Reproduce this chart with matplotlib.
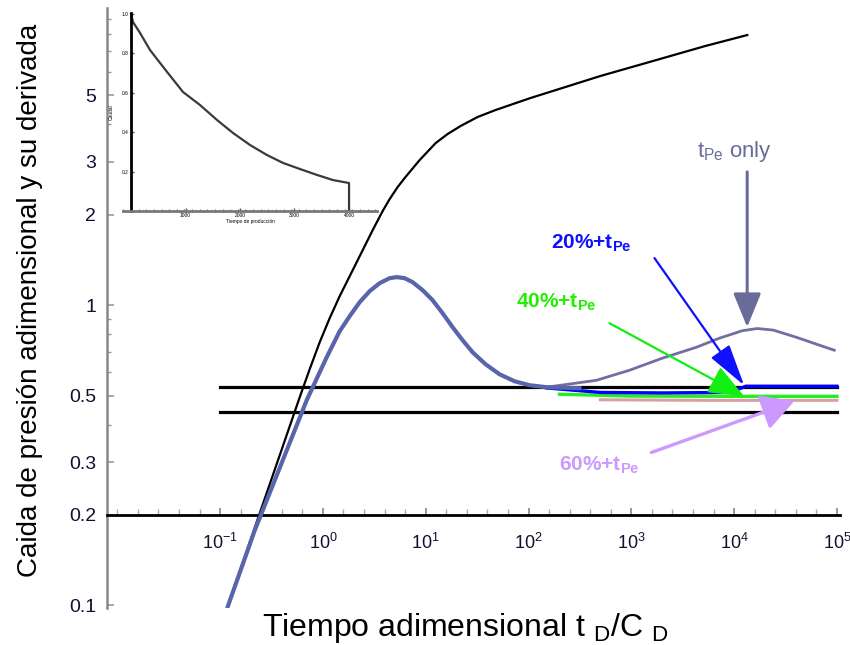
import numpy as np
import matplotlib
matplotlib.use('Agg')
import matplotlib.pyplot as plt
from matplotlib.ticker import FixedLocator, FixedFormatter, NullFormatter, MultipleLocator

plt.rcParams['font.family'] = ['Liberation Sans', 'DejaVu Sans']
plt.rcParams['mathtext.fontset'] = 'custom'
plt.rcParams['mathtext.rm'] = 'Liberation Sans'
plt.rcParams['mathtext.it'] = 'Liberation Sans'
plt.rcParams['mathtext.bf'] = 'Liberation Sans:bold'

# ---------------- data ----------------
pressure_t = [0.119, 0.232, 0.380, 0.595, 0.744, 0.931, 1.164, 1.457, 2.04, 3.05, 3.811,
              4.46, 5.333, 6.24, 8.73, 12.5, 16.32, 21.8, 31.95, 47.8, 104.5, 229, 501,
              1096, 2399, 5250, 13430]
pressure_v = [0.0993, 0.1936, 0.316, 0.4935, 0.612, 0.7527, 0.905, 1.0715, 1.349, 1.778,
              2.057, 2.256, 2.474, 2.651, 3.043, 3.467, 3.715, 3.95, 4.234, 4.467, 4.898,
              5.33, 5.80, 6.26, 6.76, 7.30, 7.94]

deriv_t = [0.119, 0.2174, 0.4067, 0.696, 1.089, 1.457, 1.822, 2.279, 2.850, 3.565, 4.459,
           5.216, 6.237, 7.459, 9.331, 11.67, 14.59, 18.27, 22.85, 28.57, 38.2, 52.2,
           73.1, 102.3, 149.6, 313]
deriv_v = [0.0993, 0.1778, 0.3042, 0.4824, 0.6709, 0.8190, 0.9190, 1.023, 1.1135, 1.184,
           1.230, 1.240, 1.230, 1.193, 1.122, 1.039, 0.9404, 0.8447, 0.7644, 0.6971,
           0.6357, 0.5888, 0.5579, 0.5412, 0.5329, 0.5289]

tpe_only_t = [150, 458, 959, 2005, 4295, 7180, 12000, 16810, 24000, 40180, 67300, 94200]
tpe_only_v = [0.533, 0.562, 0.607, 0.666, 0.724, 0.776, 0.822, 0.836, 0.826, 0.782,
              0.736, 0.708]

ht20_t = [150, 500, 2000, 8000, 11000, 13000, 30000, 100000]
ht20_v = [0.530, 0.512, 0.510, 0.512, 0.525, 0.537, 0.537, 0.537]

ht40_t = [200, 1000, 10000, 100000]
ht40_v = [0.505, 0.498, 0.497, 0.497]

ht60_t = [500, 5000, 100000]
ht60_v = [0.484, 0.482, 0.482]

ref_t = [0.1, 100000]
ref_upper_v = 0.535
ref_lower_v = 0.44

y_ticks = [0.1, 0.2, 0.3, 0.5, 1, 2, 3, 5]
y_tick_labels = ['0.1', '0.2', '0.3', '0.5', '1', '2', '3', '5']
y_minor = [0.4, 0.6, 0.7, 0.8, 0.9, 4, 6, 7, 8, 9]
x_ticks = [1e-1, 1e0, 1e1, 1e2, 1e3, 1e4, 1e5]
x_tick_labels = [r'$\mathregular{10^{-1}}$', r'$\mathregular{10^{0}}$', r'$\mathregular{10^{1}}$',
                 r'$\mathregular{10^{2}}$', r'$\mathregular{10^{3}}$', r'$\mathregular{10^{4}}$',
                 r'$\mathregular{10^{5}}$']

# inset (rate history) data
inset_x = [0, 37, 165, 349, 661, 954, 1266, 1578, 1872, 2184, 2496, 2789, 3101, 3413,
           3707, 4001, 4001]
inset_y = [1.0, 0.959, 0.904, 0.817, 0.706, 0.604, 0.538, 0.462, 0.396, 0.335, 0.284,
           0.244, 0.213, 0.183, 0.157, 0.142, 0.0]
inset_xticks = [1000, 2000, 3000, 4000]
inset_yticks = [0.2, 0.4, 0.6, 0.8, 1.0]

# annotation anchors (data coordinates)
ann_tpe = dict(text=(1.0e4, 3.25), tail=(13400, 2.78), tip=(13400, 0.845))
ann_20 = dict(text=(410, 1.61), tail=(1680, 1.435), tip=(12500, 0.541))
ann_40 = dict(text=(185, 1.02), tail=(612, 0.871), tip=(12500, 0.497))
ann_60 = dict(text=(490, 0.293), tail=(1567, 0.323), tip=(38500, 0.479))

# ---------------- figure ----------------
fig = plt.figure(figsize=(8.5, 6.45), dpi=100)
ax = fig.add_axes([107/850, 1-608/645, (840-107)/850, 600/645])
ax.set_xscale('log')
ax.set_yscale('log')
ax.set_xlim(10**-2.10, 10**5.03)
ax.set_ylim(0.098, 9.77)

ax.plot(ref_t, [ref_upper_v]*2, color='black', lw=2.3, zorder=2)
ax.plot(ref_t, [ref_lower_v]*2, color='black', lw=2.3, zorder=2)
ax.plot(pressure_t, pressure_v, color='black', lw=1.6, zorder=3,
        solid_joinstyle='round')
ax.plot(ht60_t, ht60_v, color='#d4a0a0', lw=2.2, zorder=3)
ax.plot(ht40_t, ht40_v, color='#22ee22', lw=2.4, zorder=4)
ax.plot(ht20_t, ht20_v, color='#0000ff', lw=2.4, zorder=5)
ax.plot(tpe_only_t, tpe_only_v, color='#7070a0', lw=2.0, zorder=4,
        solid_joinstyle='round')
ax.plot(deriv_t, deriv_v, color='#5a64aa', lw=3.0, zorder=6, solid_joinstyle='round')

narrow = ['Liberation Sans Narrow', 'Liberation Sans', 'DejaVu Sans']

def arrow(d, color, lw, hl, hw):
    ax.annotate('', xy=d['tip'], xytext=d['tail'], xycoords='data',
                arrowprops=dict(arrowstyle='-|>,head_length=%g,head_width=%g' % (hl, hw),
                                color=color, lw=lw, shrinkA=0, shrinkB=0,
                                mutation_scale=20), zorder=7)

arrow(ann_tpe, '#6b6b9b', 2.2, 1.05, 0.43)
arrow(ann_20, '#1010ff', 1.6, 1.3, 0.35)
arrow(ann_40, '#11ee11', 1.6, 1.1, 0.45)
arrow(ann_60, '#cc99ff', 2.4, 1.0, 0.55)

ax.text(*ann_tpe['text'], r't$_{\mathregular{Pe}}$ only', color='#6b6b9b', fontsize=16,
        ha='center', va='center', family=narrow)
ax.text(*ann_20['text'], r'20%+t$_{\mathregular{Pe}}$', color='#1010ff', fontsize=15,
        ha='center', va='center', family=narrow, weight='bold')
ax.text(*ann_40['text'], r'40%+t$_{\mathregular{Pe}}$', color='#22ee00', fontsize=15,
        ha='center', va='center', family=narrow, weight='bold')
ax.text(*ann_60['text'], r'60%+t$_{\mathregular{Pe}}$', color='#cc99ff', fontsize=15,
        ha='center', va='center', family=narrow, weight='bold')

# axes styling
for s in ['top', 'right']:
    ax.spines[s].set_visible(False)
ax.spines['left'].set_color('#888888')
ax.spines['left'].set_linewidth(1.8)
ax.spines['bottom'].set_position(('data', 0.2))
ax.spines['bottom'].set_color('black')
ax.spines['bottom'].set_linewidth(2.0)

ax.yaxis.set_major_locator(FixedLocator(y_ticks))
ax.yaxis.set_major_formatter(FixedFormatter(y_tick_labels))
ax.yaxis.set_minor_locator(FixedLocator(y_minor))
ax.yaxis.set_minor_formatter(NullFormatter())
ax.tick_params(axis='y', which='major', direction='in', length=5, width=1.2, color='#999999',
               labelsize=14, pad=8, labelcolor='#101030')
ax.tick_params(axis='y', which='minor', direction='in', length=3, width=1.0, color='#999999')

ax.xaxis.set_major_locator(FixedLocator(x_ticks))
ax.xaxis.set_major_formatter(FixedFormatter(x_tick_labels))
ax.xaxis.set_minor_locator(FixedLocator(10 ** (np.arange(-10, 26) / 5.0)))
ax.xaxis.set_minor_formatter(NullFormatter())
ax.tick_params(axis='x', which='major', direction='in', length=5, width=1.2, color='#888888',
               labelsize=13, pad=13, labelcolor='#101030')
ax.tick_params(axis='x', which='minor', direction='in', length=4, width=1.0, color='#aaaaaa')

fig.text(0.035, 0.535, 'Caida de presión adimensional y su derivada', rotation=90,
         fontsize=20, ha='center', va='center')
fig.text(0.547, 0.027, r'Tiempo adimensional t $_{\mathregular{D}}$/C $_{\mathregular{D}}$',
         fontsize=23, ha='center', va='center')

# ---------------- inset ----------------
iax = fig.add_axes([123/850, 1-211/645, (377-123)/850, (211-13)/645])
iax.set_xlim(-147, 4514)
iax.set_ylim(0, 1.005)
iax.plot(inset_x, inset_y, color='#3a3a3a', lw=1.6)
for s in ['top', 'right']:
    iax.spines[s].set_visible(False)
iax.spines['left'].set_position(('data', 0))
iax.spines['left'].set_color('black')
iax.spines['left'].set_linewidth(2.0)
iax.spines['bottom'].set_color('#777777')
iax.spines['bottom'].set_linewidth(2.0)
iax.xaxis.set_major_locator(FixedLocator(inset_xticks))
iax.yaxis.set_major_locator(FixedLocator(inset_yticks))
iax.xaxis.set_minor_locator(MultipleLocator(140))
iax.tick_params(axis='both', which='major', direction='in', length=2, width=1.0,
                color='#555555', labelsize=3.5, pad=1.5)
iax.tick_params(axis='x', which='minor', direction='in', length=1.5, width=0.8, color='#777777')
iax.set_xlabel('Tiempo de producción', fontsize=3.5, labelpad=1)
iax.set_ylabel('Caudal', fontsize=3.5, labelpad=6)

fig.savefig('out.png', dpi=100)
